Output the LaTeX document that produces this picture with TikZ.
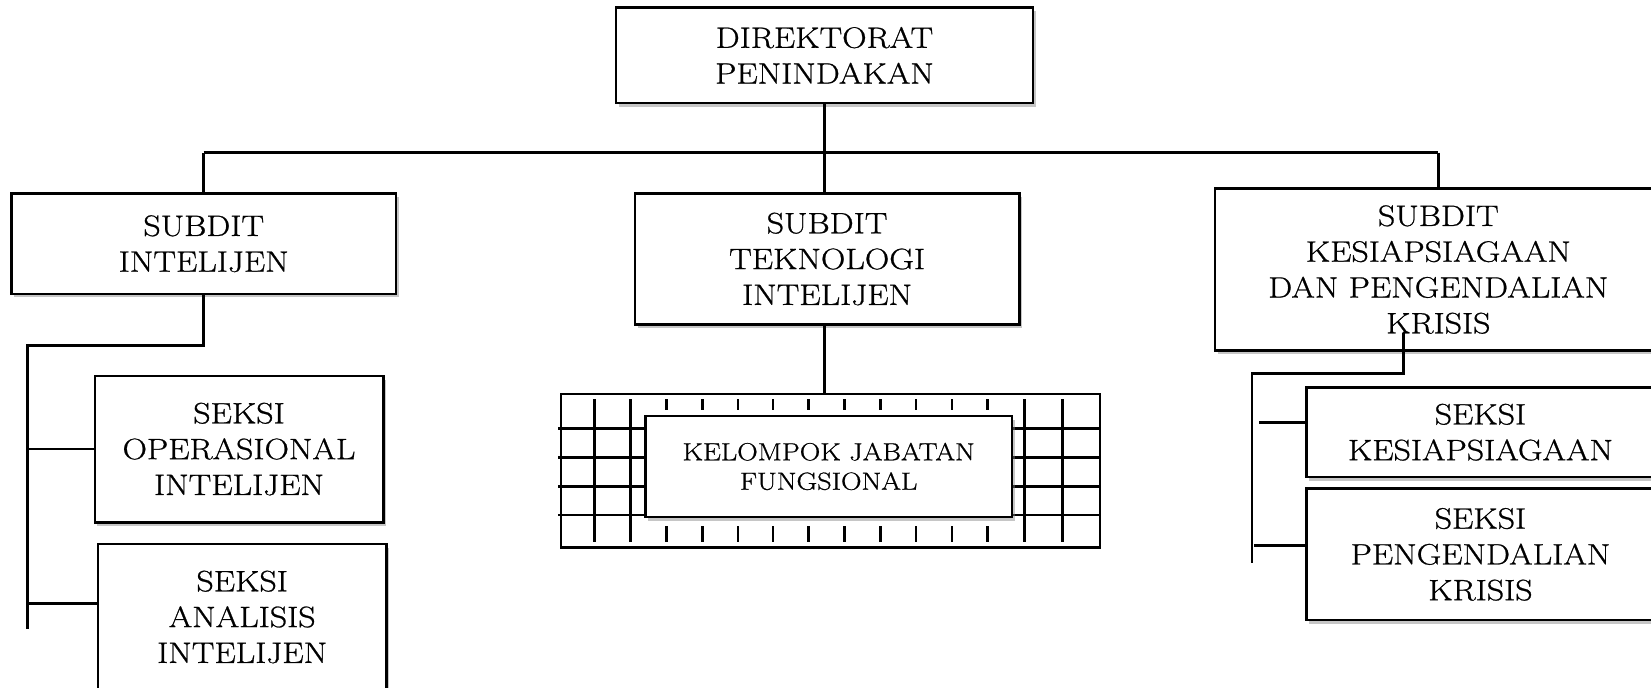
\documentclass[tikz,border=0pt]{standalone}
\usepackage{fontspec}
\setmainfont{Latin Modern Roman}[FakeStretch=1.15, FakeBold=0.8]
\usetikzlibrary{shadows}
\begin{document}
\begin{tikzpicture}[x=1pt,y=-1pt,
  box/.style={draw, line width=2.4pt, fill=white, inner sep=0pt, align=center,
    font=\fontsize{28}{34}\selectfont,
    drop shadow={shadow xshift=2.5pt, shadow yshift=-3.5pt, opacity=0.45}},
  conn/.style={line width=2.5pt},
  gridline/.style={line width=2.5pt}]
\useasboundingbox (0,0) rectangle (1568,653);

% grid pattern behind the functional group
\node[draw, line width=2.2pt, minimum width=512pt, minimum height=146pt, inner sep=0pt] (grid) at (789,447) {};
\foreach \y in {407,434.5,462,489} \draw[gridline] (530,\y) -- (1045,\y);
\foreach \x in {564.5,599,973,1009} \draw[gridline] (\x,379) -- (\x,515);
\foreach \x in {633,667,701,734,768,802,836,870,904,938} {
  \draw[gridline] (\x,379) -- (\x,389);
  \draw[gridline] (\x,500) -- (\x,515);
}

% boxes
\node[box, minimum width=396pt, minimum height=91pt] (dir) at (783,52.5) {DIREKTORAT\\PENINDAKAN};
\node[box, minimum width=365pt, minimum height=95pt] (int) at (193.5,231.5) {SUBDIT\\INTELIJEN};
\node[box, minimum width=365pt, minimum height=124pt] (tek) at (785.5,246) {SUBDIT\\TEKNOLOGI\\INTELIJEN};
\node[box, minimum width=424pt, minimum height=154pt] (kes) at (1366,256) {SUBDIT\\KESIAPSIAGAAN\\DAN PENGENDALIAN\\KRISIS};
\node[box, minimum width=274pt, minimum height=139pt] (oper) at (227,426.5) {SEKSI\\OPERASIONAL\\INTELIJEN};
\node[box, minimum width=274pt, minimum height=139pt] (ana) at (230,586) {SEKSI\\ANALISIS\\INTELIJEN};
\node[box, minimum width=330pt, minimum height=85pt] (skes) at (1406,410.5) {SEKSI\\KESIAPSIAGAAN};
\node[box, minimum width=330pt, minimum height=125pt] (speng) at (1406,526.5) {SEKSI\\PENGENDALIAN\\KRISIS};
\node[box, font=\fontsize{23.5}{28}\selectfont, minimum width=348pt, minimum height=96pt] (kjf) at (787,443) {KELOMPOK JABATAN\\FUNGSIONAL};

% connectors
\coordinate (hL) at (193.5,145);
\coordinate (hR) at (1366,145);
\coordinate (hM) at (783,145);
\draw[conn] (dir.south) -- (dir.south |- tek.north);
\draw[conn] (hL) -- (hR);
\draw[conn] (hL) -- (int.north);
\draw[conn] (hR) -- (kes.north);
\draw[conn] (tek.south -| hM) -- (hM |- grid.north);

% left branch
\coordinate (i1) at (26,328);
\coordinate (i2) at (26,597);
\coordinate (ib2) at (26,573);
\draw[conn] (int.south) |- (i1) -- (i2);
\draw[conn] (oper.west -| i1) -- (oper.west);
\draw[conn] (ib2) -- (ib2 -| ana.west);

% right branch
\coordinate (k0) at (1333,316);
\coordinate (k1) at (1189,355);
\coordinate (k2) at (1189,535);
\coordinate (kb1) at (1196,401);
\coordinate (kb2) at (1191,518);
\draw[conn] (k0) |- (k1) -- (k2);
\draw[conn] (kb1) -- (kb1 -| skes.west);
\draw[conn] (kb2) -- (kb2 -| speng.west);
\end{tikzpicture}
\end{document}
